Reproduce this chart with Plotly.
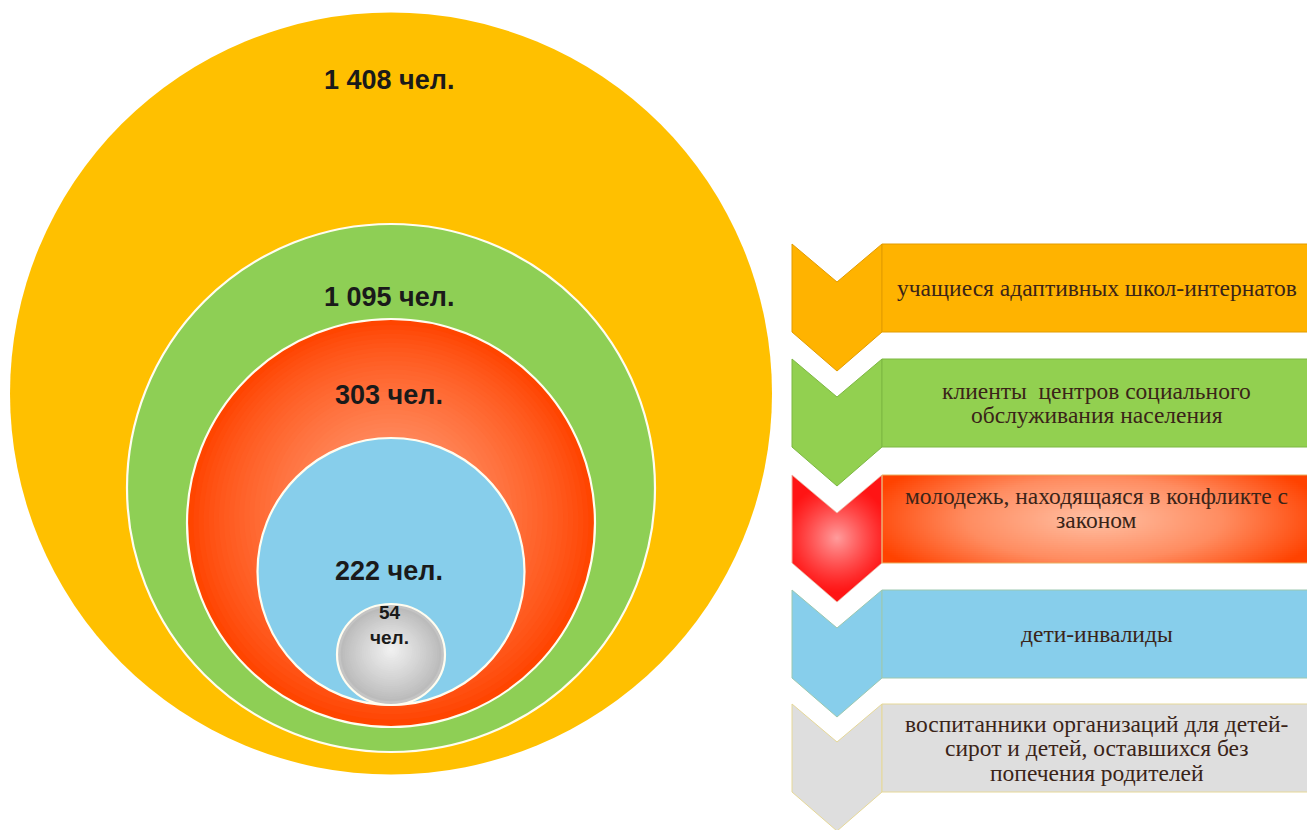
import numpy as np
import plotly.graph_objects as go

# ---------------- data ----------------
values = [1408, 1095, 303, 222, 54]
unit = "чел."
categories = [
    "учащиеся адаптивных школ-интернатов",
    "клиенты  центров социального<br>обслуживания населения",
    "молодежь, находящаяся в конфликте с<br>законом",
    "дети-инвалиды",
    "воспитанники организаций для детей-<br>сирот и детей, оставшихся без<br>попечения родителей",
]

# ---------------- layout geometry (pixels) ----------------
W, H = 1307, 830
circ_cx = [391, 391, 391, 391, 391]
circ_cy = [393.5, 488, 523, 571.5, 654.5]
circ_rx = [381, 264, 204, 133.5, 54]
circ_ry = [381, 264, 204, 133.5, 50.5]
label_y = [80, 297, 395, 571, 612]
circ_fill = ["#FFC000", "#8ECF55", "#FF4500", "#87CEEB", "#C4C4C4"]
circ_line = [None, "#FFFDF0", "#FFFDF0", "#FFFDF0", "#FFFDF0"]

box_x0, box_x1 = 882, 1307
chev_x0, chev_mid = 792, 837
box_top = [244, 359, 475, 590, 704]
box_h = 88
notch = 38
text_y = [288, 403, 508, 634, 748]
line_gap = 24.5
box_fill = ["#FFB300", "#92D050", None, "#87CEEB", "#DEDEDE"]
box_line = ["#E39C00", "#7DB843", "#E8B060", "#9CC8B0", "#E6D898"]
chev_fill = ["#FFB300", "#92D050", None, "#87CEEB", "#DEDEDE"]


def hex2rgb(h):
    h = h.lstrip("#")
    return np.array([int(h[i:i + 2], 16) for i in (0, 2, 4)], float)


def mix(c1, c2, t):
    a, b = hex2rgb(c1), hex2rgb(c2)
    c = a + (b - a) * t
    return "rgb(%d,%d,%d)" % tuple(np.round(c))


fig = go.Figure()
shapes = []

# ---------------- nested circles ----------------
for i, v in enumerate(values):
    cx, cy, rx, ry = circ_cx[i], circ_cy[i], circ_rx[i], circ_ry[i]
    lw = 2.2 if circ_line[i] else 0
    shapes.append(dict(type="circle", xref="x", yref="y", layer="below",
                       x0=cx - rx, x1=cx + rx, y0=cy - ry, y1=cy + ry,
                       fillcolor=circ_fill[i],
                       line=dict(color=circ_line[i] or circ_fill[i], width=lw)))
    if i == 2:  # radial gradient red
        n = 40
        for k in range(1, n):
            f = 1 - k / n
            t = (k / n) ** 0.8
            off = 25 * (1 - f)
            gy = cy - off
            shapes.append(dict(type="circle", xref="x", yref="y", layer="below",
                               x0=cx - (rx - 1.5) * f, x1=cx + (rx - 1.5) * f,
                               y0=gy - (ry - 1.5) * f, y1=gy + (ry - 1.5) * f,
                               fillcolor=mix("#FF4300", "#FFA27E", t),
                               line=dict(width=0)))
    if i == 4:  # radial gradient gray
        n = 25
        for k in range(1, n):
            f = 1 - k / n
            t = (k / n) ** 0.9
            gx, gy = cx, cy - 5 * (1 - f)
            shapes.append(dict(type="circle", xref="x", yref="y", layer="below",
                               x0=gx - (rx - 1.5) * f, x1=gx + (rx - 1.5) * f,
                               y0=gy - (ry - 1.5) * f, y1=gy + (ry - 1.5) * f,
                               fillcolor=mix("#B8B8B8", "#F2F2F2", t),
                               line=dict(width=0)))

# ---------------- chevrons and boxes ----------------
for i in range(len(categories)):
    y0 = box_top[i]
    y1 = y0 + box_h
    path = (f"M {chev_x0},{y0} L {chev_mid},{y0 + notch} L {box_x0},{y0} "
            f"L {box_x0},{y1} L {chev_mid},{y1 + notch + 1} L {chev_x0},{y1} Z")
    if chev_fill[i]:
        shapes.append(dict(type="path", path=path, xref="x", yref="y", layer="below",
                           fillcolor=chev_fill[i], line=dict(color=box_line[i], width=1)))
        shapes.append(dict(type="rect", xref="x", yref="y", layer="below",
                           x0=box_x0, x1=box_x1 + 2, y0=y0, y1=y1,
                           fillcolor=box_fill[i], line=dict(color=box_line[i], width=1)))
    else:
        # red chevron with highlight (heatmap masked to chevron shape)
        xs = np.arange(chev_x0, box_x0 + 1, 1.0) + 0.5
        ys = np.arange(y0, y1 + notch + 2, 1.0) + 0.5
        X, Y = np.meshgrid(xs, ys)
        d = np.abs(X - chev_mid)
        inside = (X >= chev_x0) & (X <= box_x0) & \
                 (Y >= y0 + notch * (1 - d / (chev_mid - chev_x0))) & \
                 (Y <= y1 + (notch + 1) * (1 - d / (chev_mid - chev_x0)))
        r = np.sqrt((X - chev_mid) ** 2 + (Y - (y0 + 63)) ** 2) / 55.0
        z = np.clip(1 - r, 0, 1) ** 1.2
        z = np.where(inside, z, np.nan)
        fig.add_trace(go.Heatmap(x=xs, y=ys, z=z, zmin=0, zmax=1, showscale=False,
                                 hoverinfo="skip", zsmooth=False,
                                 colorscale=[[0, "#FF1414"], [1, "#FF9C9C"]]))
        # red box with elliptical gradient
        bxs = np.arange(box_x0, box_x1 + 2, 2.0) + 1
        bys = np.arange(y0, y1, 2.0) + 1
        BX, BY = np.meshgrid(bxs, bys)
        bcx, bcy = (box_x0 + box_x1) / 2, (y0 + y1) / 2
        rr = np.sqrt(((BX - bcx) / ((box_x1 - box_x0) / 2 * 1.1)) ** 2 +
                     ((BY - bcy) / (box_h / 2 * 1.7)) ** 2)
        bz = np.clip(1 - rr, 0, 1)
        fig.add_trace(go.Heatmap(x=bxs, y=bys, z=bz, zmin=0, zmax=1, showscale=False,
                                 hoverinfo="skip", zsmooth=False,
                                 colorscale=[[0, "#FF4200"], [0.45, "#FF8C60"], [1, "#FFC0A4"]]))
        shapes.append(dict(type="path", path=path, xref="x", yref="y", layer="above",
                           fillcolor="rgba(0,0,0,0)", line=dict(color="#F0B0A0", width=1)))
        shapes.append(dict(type="rect", xref="x", yref="y", layer="above",
                           x0=box_x0, x1=box_x1 + 2, y0=y0, y1=y1,
                           fillcolor="rgba(0,0,0,0)", line=dict(color=box_line[i], width=1)))

# ---------------- annotations ----------------
annotations = []
lab_font = "Liberation Sans, Arial"
for i, v in enumerate(values):
    num = f"{v:,}".replace(",", " ")
    if i < 4:
        annotations.append(dict(x=389, y=label_y[i], xref="x", yref="y",
                                text=f"<b>{num} {unit}</b>", showarrow=False,
                                font=dict(family=lab_font, size=27, color="#1A1A1A")))
    else:
        annotations.append(dict(x=390, y=label_y[i], xref="x", yref="y",
                                text=f"<b>{num}</b>", showarrow=False,
                                font=dict(family=lab_font, size=19, color="#1A1A1A")))
        annotations.append(dict(x=389, y=label_y[i] + 25, xref="x", yref="y",
                                text=f"<b>{unit}</b>", showarrow=False,
                                font=dict(family=lab_font, size=19, color="#1A1A1A")))

for i, c in enumerate(categories):
    lines = c.split("<br>")
    n = len(lines)
    for j, ln in enumerate(lines):
        yy = text_y[i] + (j - (n - 1) / 2) * line_gap
        annotations.append(dict(x=(box_x0 + box_x1) / 2 + 2, y=yy, xref="x", yref="y",
                                text=ln, showarrow=False, align="center",
                                font=dict(family="Liberation Serif, Times New Roman", size=23.5,
                                          color="#3A2418")))

fig.update_layout(
    width=W, height=H,
    margin=dict(l=0, r=0, t=0, b=0),
    paper_bgcolor="white", plot_bgcolor="white",
    showlegend=False,
    shapes=shapes, annotations=annotations,
    xaxis=dict(range=[0, W], visible=False, fixedrange=True),
    yaxis=dict(range=[H, 0], visible=False, fixedrange=True),
)

fig.write_html("out.html", config={"displayModeBar": False},
               post_script="document.body.style.margin='0';document.body.style.overflow='hidden';")
